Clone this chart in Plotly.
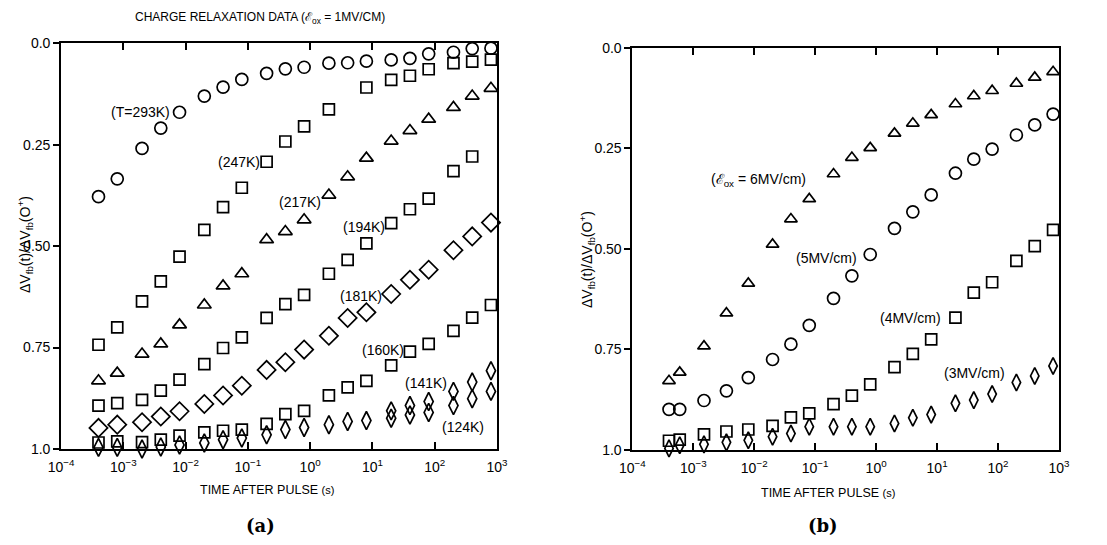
import plotly.graph_objects as go

# ---------------- data: panel (a), E_ox = 1 MV/cm ----------------
t_a = [4e-4, 8e-4, 2e-3, 4e-3, 8e-3, 2e-2, 4e-2, 8e-2, 0.2, 0.4, 0.8, 2, 4, 8, 20, 40, 80, 200, 400, 800]
t_a247 = [4e-4, 8e-4, 2e-3, 4e-3, 8e-3, 2e-2, 4e-2, 8e-2, 0.2, 0.4, 0.8, 2, 8, 20, 40, 80, 200, 400, 800]
t_a194 = [4e-4, 8e-4, 2e-3, 4e-3, 8e-3, 2e-2, 4e-2, 8e-2, 0.2, 0.4, 0.8, 2, 4, 8, 20, 40, 80, 200, 400]
t_a124 = [20, 40, 80, 200, 400, 800]

v293 = [0.378, 0.334, 0.259, 0.209, 0.170, 0.130, 0.108, 0.089, 0.074, 0.063,
        0.059, 0.049, 0.048, 0.044, 0.041, 0.037, 0.026, 0.022, 0.013, 0.012]
v247 = [0.743, 0.700, 0.636, 0.587, 0.526, 0.460, 0.404, 0.356, 0.292, 0.242,
        0.205, 0.163, 0.109, 0.090, 0.080, 0.064, 0.049, 0.045, 0.040]
v217 = [0.832, 0.813, 0.766, 0.741, 0.694, 0.645, 0.598, 0.568, 0.484, 0.464,
        0.435, 0.374, 0.329, 0.283, 0.241, 0.215, 0.187, 0.158, 0.130, 0.111]
v194 = [0.893, 0.887, 0.879, 0.856, 0.829, 0.791, 0.751, 0.725, 0.677, 0.643,
        0.620, 0.568, 0.534, 0.493, 0.443, 0.409, 0.383, 0.315, 0.279]
v181 = [0.948, 0.940, 0.934, 0.920, 0.907, 0.889, 0.868, 0.844, 0.805, 0.786,
        0.755, 0.721, 0.677, 0.663, 0.618, 0.583, 0.558, 0.510, 0.476, 0.442]
v160 = [0.984, 0.981, 0.983, 0.977, 0.967, 0.959, 0.955, 0.952, 0.938, 0.914,
        0.906, 0.868, 0.848, 0.832, 0.794, 0.760, 0.741, 0.709, 0.676, 0.645]
v141 = [0.996, 0.996, 1.000, 0.995, 0.990, 0.985, 0.977, 0.973, 0.965, 0.952,
        0.947, 0.940, 0.932, 0.930, 0.906, 0.893, 0.883, 0.858, 0.835, 0.807]
v124 = [0.924, 0.916, 0.910, 0.893, 0.876, 0.858]

# ---------------- data: panel (b), varying field ----------------
t_b = [4e-4, 6e-4, 1.5e-3, 3.5e-3, 8e-3, 0.02, 0.04, 0.08, 0.2, 0.4, 0.8, 2, 4, 8, 20, 40, 80, 200, 400, 800]
v6 = [0.828, 0.807, 0.742, 0.660, 0.586, 0.489, 0.426, 0.376, 0.314, 0.273,
      0.249, 0.213, 0.188, 0.167, 0.140, 0.120, 0.107, 0.089, 0.074, 0.060]
v5 = [0.899, 0.899, 0.877, 0.853, 0.820, 0.775, 0.737, 0.690, 0.623, 0.567,
      0.514, 0.449, 0.408, 0.366, 0.312, 0.277, 0.252, 0.217, 0.192, 0.165]
v4 = [0.977, 0.974, 0.961, 0.954, 0.949, 0.940, 0.919, 0.909, 0.886, 0.865,
      0.837, 0.794, 0.761, 0.725, 0.671, 0.609, 0.583, 0.530, 0.493, 0.453]
v3 = [0.996, 0.988, 0.986, 0.981, 0.976, 0.967, 0.959, 0.942, 0.942, 0.942,
      0.942, 0.934, 0.920, 0.912, 0.884, 0.876, 0.861, 0.832, 0.816, 0.791]

x_tickvals = [1e-4, 1e-3, 1e-2, 1e-1, 1e0, 1e1, 1e2, 1e3]
x_ticktext = ["10<sup>\u22124</sup>", "10<sup>\u22123</sup>", "10<sup>\u22122</sup>", "10<sup>\u22121</sup>",
              "10<sup>0</sup>", "10<sup>1</sup>", "10<sup>2</sup>", "10<sup>3</sup>"]
y_tickvals = [0.0, 0.25, 0.5, 0.75, 1.0]
y_ticktext = ["0.0", "0.25", "0.50", "0.75", "1.0"]

labels_a = ["(T=293K)", "(247K)", "(217K)", "(194K)", "(181K)", "(160K)", "(141K)", "(124K)"]
labels_b = ["(\u2130<sub>ox</sub> = 6MV/cm)", "(5MV/cm)", "(4MV/cm)", "(3MV/cm)"]

FONT = "Liberation Sans, Arial, Helvetica, sans-serif"
OFF = 8                      # default page body margin
W, H = 1107 - OFF, 545 - OFF  # figure size so the page is exactly 1107 x 545

def px(x):
    return (x - OFF) / W

def py(y):
    return 1 - (y - OFF) / H

fig = go.Figure()

def add(t, v, sym, size, xa, ya, lw=1.7):
    fig.add_trace(go.Scatter(
        x=t, y=v, mode="markers", xaxis=xa, yaxis=ya, cliponaxis=False,
        marker=dict(symbol=sym, size=size, color="black",
                    line=dict(color="black", width=lw)),
        showlegend=False, hoverinfo="x+y"))

# panel (a)
add(t_a, v293, "circle-open", 12, "x", "y")
add(t_a247, v247, "square-open", 11, "x", "y")
add(t_a, v217, "triangle-up-open", 12, "x", "y")
add(t_a194, v194, "square-open", 11, "x", "y")
add(t_a, v181, "diamond-open", 14, "x", "y")
add(t_a, v160, "square-open", 11, "x", "y")
add(t_a, v141, "diamond-tall-open", 13, "x", "y")
add(t_a124, v124, "diamond-tall-open", 13, "x", "y")
# panel (b)
add(t_b, v6, "triangle-up-open", 11, "x2", "y2")
add(t_b, v5, "circle-open", 12, "x2", "y2")
add(t_b, v4, "square-open", 11, "x2", "y2")
add(t_b, v3, "diamond-tall-open", 12, "x2", "y2")

# plot-area boxes (page pixels)
dom_a_x = [px(61), px(497)]
dom_a_y = [py(449), py(43.3)]
dom_b_x = [px(632.3), px(1059)]
dom_b_y = [py(450), py(47.7)]

def xax(domain, anchor):
    return dict(type="log", range=[-4, 3], domain=domain, anchor=anchor,
                automargin=False,
                tickvals=x_tickvals, ticktext=x_ticktext, ticks="inside",
                ticklen=7, tickwidth=1.5, tickcolor="black",
                ticklabelstandoff=4,
                showline=True, linewidth=1.7, linecolor="black", mirror="ticks",
                showgrid=False, zeroline=False,
                tickfont=dict(family=FONT, size=14, color="black"))

def yax(domain, anchor):
    return dict(range=[1.0, 0.0], domain=domain, anchor=anchor,
                automargin=False,
                tickvals=y_tickvals, ticktext=y_ticktext, ticks="outside",
                ticklen=6, tickwidth=1.5, tickcolor="black",
                showline=True, linewidth=1.7, linecolor="black", mirror=True,
                showgrid=False, zeroline=False,
                tickfont=dict(family=FONT, size=14, color="black"))

def yright(over, anchor):
    return dict(range=[1.0, 0.0], overlaying=over, anchor=anchor, side="right",
                automargin=False,
                tickvals=[0.25, 0.5, 0.75], ticks="inside", ticklen=7,
                tickwidth=1.5, tickcolor="black", showticklabels=False,
                showline=False, showgrid=False, zeroline=False)

annotations = []
def ann(text, x, y, size=14, angle=0, family=FONT, bold=False):
    annotations.append(dict(
        text=("<b>%s</b>" % text) if bold else text,
        x=px(x), y=py(y), xref="paper", yref="paper",
        xanchor="center", yanchor="middle", showarrow=False, textangle=angle,
        font=dict(family=family, size=size, color="black")))

pos_a = [(140.8, 111.7), (239, 162.3), (299.7, 201.7), (363.7, 226.7),
         (360.8, 296), (382.7, 350), (425.8, 383.3), (462.7, 426.7)]
pos_b = [(758.7, 180), (827, 258.3), (910, 318.3), (974.2, 373.3)]
for txt, (x, y) in zip(labels_a, pos_a):
    ann(txt, x, y, size=14)
for txt, (x, y) in zip(labels_b, pos_b):
    ann(txt, x, y, size=14)

ann("CHARGE RELAXATION DATA (\u2130<sub>ox</sub> = 1MV/CM)", 260, 18, size=12)
ylab = "\u0394V<sub>fb</sub>(t)/\u0394V<sub>fb</sub>(O<sup>+</sup>)"
ann(ylab, 25, 245, size=14, angle=-90)
ann(ylab, 587, 260, size=14, angle=-90)
xlab = "TIME AFTER PULSE <span style='font-size:11px'>(s)</span>"
ann(xlab, 266.7, 490, size=12.5)
ann(xlab, 828.3, 493, size=12.5)
ann("(a)", 260, 525, size=18, family="DejaVu Serif, serif", bold=True)
ann("(b)", 823.3, 525, size=18, family="DejaVu Serif, serif", bold=True)

fig.update_layout(
    template="none",
    width=W, height=H, autosize=False,
    margin=dict(l=0, r=0, t=0, b=0, pad=0),
    paper_bgcolor="white", plot_bgcolor="white",
    font=dict(family=FONT, color="black"),
    xaxis=xax(dom_a_x, "y"), yaxis=yax(dom_a_y, "x"),
    xaxis2=xax(dom_b_x, "y2"), yaxis2=yax(dom_b_y, "x2"),
    yaxis3=yright("y", "x"), yaxis4=yright("y2", "x2"),
    annotations=annotations,
)

fig.write_html("out.html", config={"displayModeBar": False})
